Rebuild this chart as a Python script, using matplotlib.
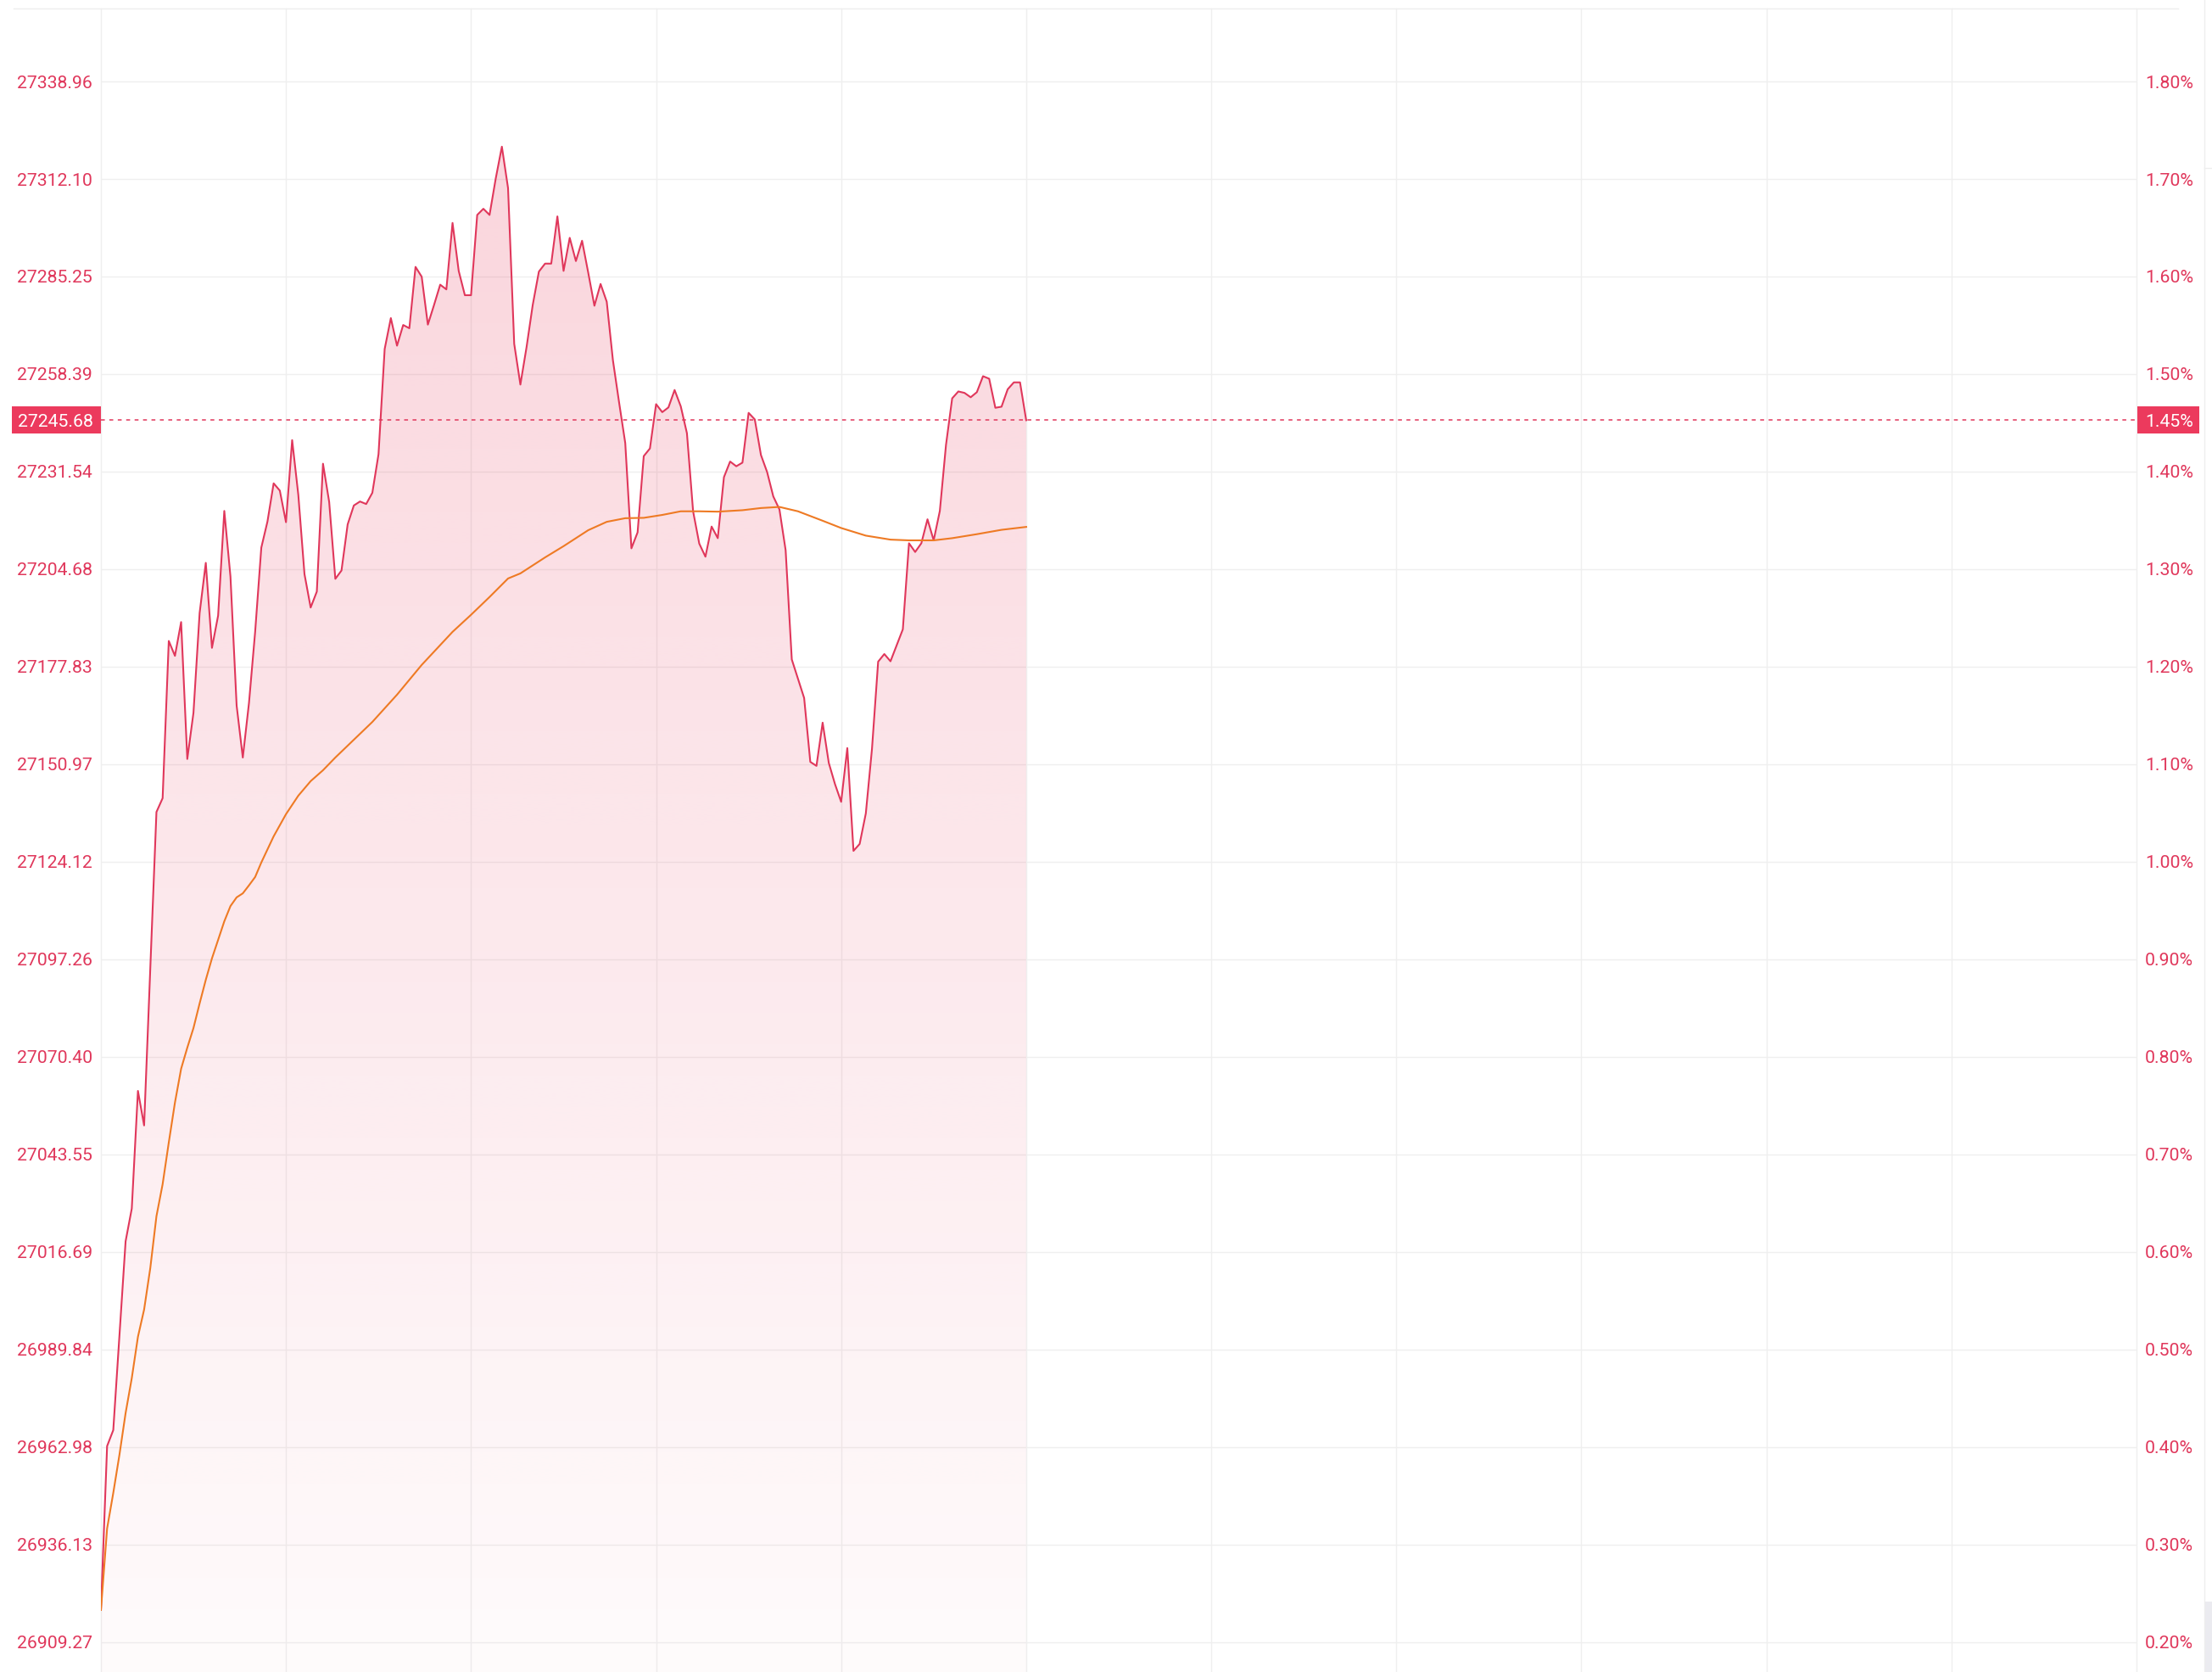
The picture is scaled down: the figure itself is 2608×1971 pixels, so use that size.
# intraday index chart - price line with average line, morning session only

import numpy as np
import matplotlib.pyplot as plt
from matplotlib.patches import Rectangle
from matplotlib.lines import Line2D

plt.rcParams['font.family'] = ['Roboto', 'DejaVu Sans']

# minute-by-minute index level, 9:30 -> 12:00
price = [
    26918.1, 26963.2, 26967.6, 26993.6, 27019.6, 27028.6, 27061.0, 27051.5, 27094.7, 27137.8,
    27141.6, 27184.9, 27180.8, 27190.1, 27152.4, 27165.1, 27192.6, 27206.4, 27183.0, 27191.9,
    27220.7, 27202.6, 27167.1, 27152.8, 27167.8, 27187.4, 27210.6, 27217.8, 27228.3, 27226.3,
    27217.6, 27240.2, 27225.1, 27203.3, 27194.1, 27198.5, 27233.7, 27223.2, 27202.0, 27204.3,
    27217.0, 27222.2, 27223.3, 27222.6, 27225.7, 27236.3, 27265.3, 27273.8, 27266.2, 27271.9,
    27271.0, 27287.9, 27285.2, 27272.0, 27277.4, 27283.0, 27281.7, 27300.0, 27286.8, 27280.1,
    27280.1, 27302.2, 27303.9, 27302.2, 27312.2, 27321.0, 27309.6, 27266.7, 27255.5, 27265.8,
    27277.4, 27286.6, 27288.8, 27288.8, 27301.8, 27286.8, 27295.9, 27289.5, 27295.1, 27286.3,
    27277.2, 27283.2, 27278.3, 27262.2, 27250.6, 27239.4, 27210.4, 27214.8, 27235.8, 27237.9,
    27250.1, 27247.9, 27249.2, 27254.0, 27249.5, 27242.1, 27220.6, 27211.7, 27208.1, 27216.4,
    27213.2, 27230.0, 27234.3, 27233.0, 27234.0, 27247.7, 27245.9, 27236.1, 27231.4, 27224.7,
    27221.1, 27209.9, 27179.8, 27174.5, 27169.2, 27151.6, 27150.5, 27162.4, 27151.3, 27145.5,
    27140.6, 27155.4, 27127.1, 27129.0, 27137.4, 27155.2, 27179.2, 27181.3, 27179.3, 27183.7,
    27188.1, 27211.8, 27209.4, 27211.8, 27218.4, 27212.6, 27220.7, 27238.9, 27251.7, 27253.6,
    27253.2, 27252.0, 27253.4, 27257.8, 27257.1, 27249.1, 27249.4, 27254.2, 27256.1, 27256.1,
    27245.68,
]
price_minutes = list(range(len(price)))

# average line, read at these minutes
avg_minutes = [0, 1, 2, 3, 4, 5, 6, 7, 8, 9, 10, 11, 12, 13, 14, 15, 16, 17, 18, 19,
               20, 21, 22, 23, 24, 25, 26, 28, 30, 32, 34, 36, 38, 41, 44, 48, 52, 57,
               60, 63, 66, 68, 72, 75, 79, 82, 85, 88, 91, 94, 97, 100, 104, 107, 110,
               113, 117, 120, 124, 128, 131, 135, 138, 142, 146, 150]
avg_price = [
    26918.1, 26940.5, 26950.3, 26960.8, 26972.3, 26981.9, 26993.3, 27000.8, 27012.2, 27026.5,
    27035.3, 27046.8, 27057.8, 27067.1, 27072.9, 27078.3, 27085.1, 27091.6, 27097.5, 27102.6,
    27107.7, 27111.9, 27114.3, 27115.4, 27117.6, 27119.9, 27123.9, 27131.1, 27137.2, 27142.3,
    27146.3, 27149.3, 27152.8, 27157.7, 27162.6, 27170.1, 27178.3, 27187.4, 27192.1, 27197.0,
    27202.1, 27203.5, 27207.9, 27211.0, 27215.4, 27217.7, 27218.7, 27218.8, 27219.6, 27220.6,
    27220.6, 27220.5, 27220.9, 27221.5, 27221.8, 27220.6, 27218.0, 27216.0, 27213.9, 27212.8,
    27212.6, 27212.6, 27213.2, 27214.3, 27215.5, 27216.3,
]

last_price = 27245.68
last_pct = '1.45%'

# axis ticks: level on the left, change vs previous close on the right
tick_levels = [26909.27, 26936.13, 26962.98, 26989.84, 27016.69, 27043.55, 27070.40,
               27097.26, 27124.12, 27150.97, 27177.83, 27204.68, 27231.54, 27258.39,
               27285.25, 27312.10, 27338.96]
tick_pct = ['0.20%', '0.30%', '0.40%', '0.50%', '0.60%', '0.70%', '0.80%', '0.90%',
            '1.00%', '1.10%', '1.20%', '1.30%', '1.40%', '1.50%', '1.60%', '1.70%', '1.80%']
time_ticks = [0, 30, 60, 90, 120, 150, 180, 210, 240, 270, 300, 330]

red = '#e0375b'
tag_red = '#ec3a5d'
orange = '#ee7a24'
grid_col = '#efefef'
fs = 15.3

W, H = 2608, 1971
fig = plt.figure(figsize=(W / 100, H / 100), dpi=100)
ax = fig.add_axes([119 / W, 0, 2400 / W, (H - 10) / H])

ylo, yhi = 26901.0, 27359.05
ax.set_xlim(0, 330)
ax.set_ylim(ylo, yhi)

# grid
for t in time_ticks:
    ax.axvline(t, color=grid_col, lw=1.0, zorder=0, clip_on=False)
for lv in tick_levels:
    ax.axhline(lv, color=grid_col, lw=1.0, zorder=0)

# gradient fill under the price line
area = ax.fill_between(price_minutes, price, ylo, color='none', lw=0)
alpha = np.linspace(0.02, 0.21, 256).reshape(-1, 1)
rgba = np.zeros((256, 1, 4))
rgba[..., 0] = 232 / 255
rgba[..., 1] = 56 / 255
rgba[..., 2] = 90 / 255
rgba[..., 3] = alpha
img = ax.imshow(rgba, extent=[0, price_minutes[-1], ylo, max(price)], origin='lower',
                aspect='auto', zorder=1, interpolation='bilinear')
img.set_clip_path(area.get_paths()[0], transform=ax.transData)

ax.plot(price_minutes, price, color=red, lw=1.5, zorder=3)
ax.plot(avg_minutes, avg_price, color=orange, lw=1.5, zorder=4)

# last price dashed line
ax.axhline(last_price, color=red, lw=1.1, linestyle=(0, (3, 3.5)), zorder=2)

ax.set_xlim(0, 330)
ax.set_ylim(ylo, yhi)
ax.set_xticks([])
for s in ax.spines.values():
    s.set_visible(False)

ax.set_yticks(tick_levels)
ax.set_yticklabels([f'{v:.2f}' for v in tick_levels])
ax.tick_params(axis='y', length=0, pad=7.2, labelsize=fs, labelcolor=red)

ax2 = ax.twinx()
ax2.set_ylim(ylo, yhi)
ax2.set_yticks(tick_levels)
ax2.set_yticklabels(tick_pct)
ax2.tick_params(axis='y', length=0, pad=7.2, labelsize=fs, labelcolor=red)
for s in ax2.spines.values():
    s.set_visible(False)

# price tags on both sides
ax_box = ax.get_position()
yf = ax_box.y0 + (last_price - ylo) / (yhi - ylo) * ax_box.height
fig.add_artist(Rectangle((14 / W, yf - 16 / H), 105 / W, 32 / H,
                         transform=fig.transFigure, color=tag_red, lw=0))
fig.text(110 / W, yf, f'{last_price:.2f}', ha='right', va='center_baseline',
         color='white', fontsize=fs)
fig.add_artist(Rectangle((2520 / W, yf - 16 / H), 73 / W, 32 / H,
                         transform=fig.transFigure, color=tag_red, lw=0))
fig.text(2529 / W, yf, last_pct, ha='left', va='center_baseline',
         color='white', fontsize=fs)

# frame bits around the chart
fig.add_artist(Line2D([16 / W, 2568 / W], [1 - 10 / H, 1 - 10 / H],
                      transform=fig.transFigure, color='#eeeeee', lw=1.0))
fig.add_artist(Line2D([2599 / W, 2599 / W], [0, 1], transform=fig.transFigure,
                      color='#eeeeee', lw=1.0))
fig.add_artist(Line2D([2599 / W, 1], [1 - 198 / H, 1 - 198 / H],
                      transform=fig.transFigure, color='#eeeeee', lw=1.0))
fig.add_artist(Rectangle((2600 / W, 0), 8 / W, 83 / H, transform=fig.transFigure,
                         color='#ebebf0', lw=0))

fig.savefig('out.png', dpi=100)
